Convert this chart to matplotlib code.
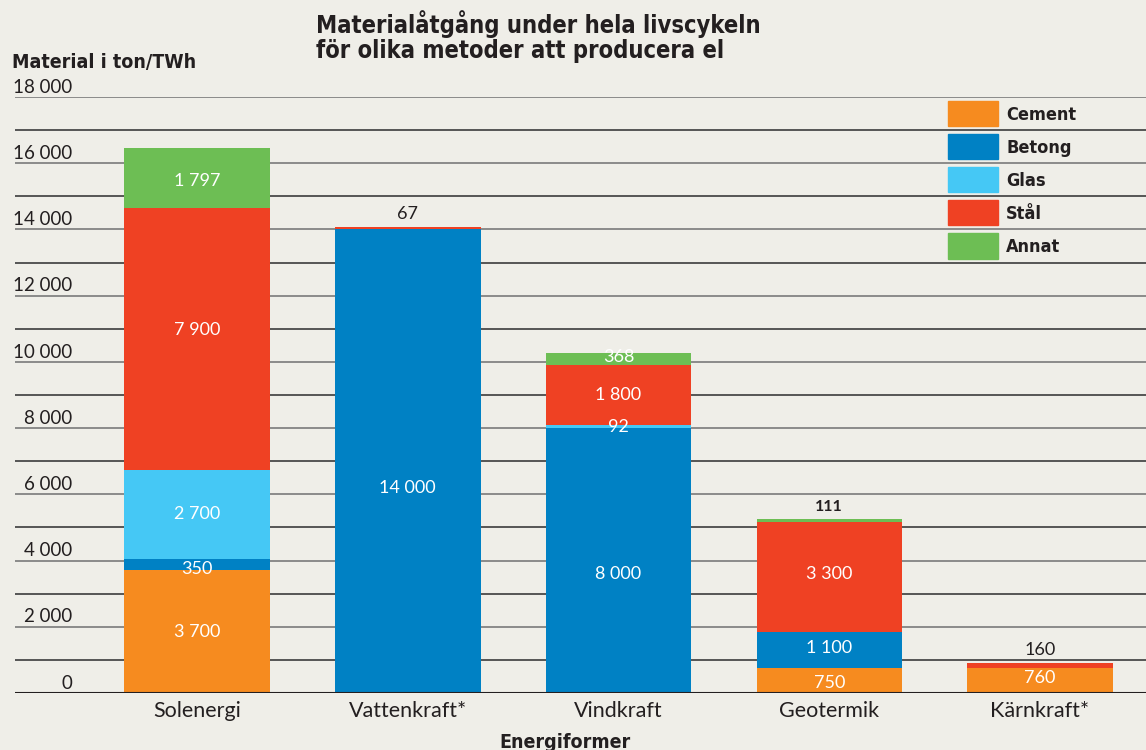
import numpy as np
import matplotlib.pyplot as plt

# data (ton/TWh)
categories = ['Solenergi', 'Vattenkraft*', 'Vindkraft', 'Geotermik', 'Kärnkraft*']
materials = ['Cement', 'Betong', 'Glas', 'Stål', 'Annat']
cement = [3700, 0, 0, 750, 760]
betong = [350, 14000, 8000, 1100, 0]
glas = [2700, 0, 92, 0, 0]
stal = [7900, 67, 1800, 3300, 160]
annat = [1797, 0, 368, 111, 0]
y_ticks = [0, 2000, 4000, 6000, 8000, 10000, 12000, 14000, 16000, 18000]

colors = ['#f68b1f', '#0081c4', '#45c8f5', '#ef4123', '#6dbe54']
bg = '#efeee8'
dark = '#231f20'
body = 'Lato'
head = dict(family='DejaVu Sans', stretch='condensed', weight='bold')

def fmt(v):
    return f'{v:,}'.replace(',', ' ')

fig = plt.figure(figsize=(11.46, 7.5), dpi=100, facecolor=bg)
ax = fig.add_axes([15/1146, 57/750, 1 - 15/1146, 596/750])
ax.set_facecolor(bg)
ax.set_xlim(-0.864, 4.503)
ax.set_ylim(0, 18000)
for s in ax.spines.values():
    s.set_visible(False)

# gridlines every 1000
for g in range(1000, 18001, 1000):
    ax.axhline(g, color='#3c3c3c' if g % 2000 else '#7a7a7a', lw=1.2, zorder=1)
ax.axhline(0, color=dark, lw=1.5, zorder=4)

# y labels sit just above their line
for v in y_ticks:
    ax.text((72 - 15) / 1131, v + 130, fmt(v), transform=ax.get_yaxis_transform(),
            ha='right', va='baseline', fontsize=13.5, family=body, color=dark)
ax.set_yticks([])

x = np.arange(len(categories))
series = [cement, betong, glas, stal, annat]
bottom = np.zeros(len(categories))
for vals, c in zip(series, colors):
    ax.bar(x, vals, 0.69, bottom=bottom, color=c, zorder=3)
    bottom += np.array(vals)

ax.set_xticks(x, categories)
ax.tick_params(axis='x', length=0, pad=6, labelsize=15.5, labelcolor=dark)
for t in ax.get_xticklabels():
    t.set_family(body)

# value labels
def inside(i, lo, val, dy=0):
    ax.text(i, lo + val / 2 + dy, fmt(val), ha='center', va='center',
            color='white', fontsize=13, family=body, zorder=5)

def above(i, top, val, bold=False):
    ax.text(i, top + 150, fmt(val), ha='center', va='bottom', color=dark,
            fontsize=11.5 if bold else 13, family=body,
            weight='bold' if bold else 'normal', zorder=5)

# Solenergi
lo = 0
inside(0, lo, cement[0]); lo += cement[0]
ax.text(0, lo + betong[0] / 2 - 130, fmt(betong[0]), ha='center', va='center',
        color='white', fontsize=13, family=body, zorder=5); lo += betong[0]
inside(0, lo, glas[0]); lo += glas[0]
inside(0, lo, stal[0], 250); lo += stal[0]
inside(0, lo, annat[0], -100)
# Vattenkraft
inside(1, 0, betong[1], -800)
above(1, betong[1] + stal[1], stal[1])
# Vindkraft
inside(2, 0, betong[2], -400)
ax.text(2, betong[2] + 30, fmt(glas[2]), ha='center', va='center',
        color='white', fontsize=13, family=body, zorder=5)
inside(2, betong[2] + glas[2], stal[2])
inside(2, betong[2] + glas[2] + stal[2], annat[2], 60)
# Geotermik
inside(3, 0, cement[3], -80)
inside(3, cement[3], betong[3], 60)
inside(3, cement[3] + betong[3], stal[3], 100)
above(3, cement[3] + betong[3] + stal[3] + annat[3], annat[3], bold=True)
# Kärnkraft
inside(4, 0, cement[4], 70)
above(4, cement[4] + stal[4], stal[4])

# legend, rows between gridlines
trans = ax.get_yaxis_transform()
for k, (m, c) in enumerate(zip(materials, colors)):
    yc = 17500 - 1000 * k
    ax.add_patch(plt.Rectangle(((948 - 15) / 1131, yc - 380), 50 / 1131, 760,
                               transform=trans, color=c, zorder=5))
    ax.text((1006 - 15) / 1131, yc - 30, m, transform=trans, ha='left', va='center',
            fontsize=13, color=dark, zorder=5, **head)

# titles
fig.text(316 / 1146, 1 - 10 / 750, 'Materialåtgång under hela livscykeln\nför olika metoder att producera el',
         ha='left', va='top', fontsize=17, color=dark, linespacing=1.05, **head)
fig.text(12 / 1146, 1 - 63 / 750, 'Material i ton/TWh', ha='left', va='center',
         fontsize=14, color=dark, **head)
fig.text(565 / 1146, 1 - 742 / 750, 'Energiformer', ha='center', va='center',
         fontsize=14, color=dark, **head)

fig.savefig('out.png', dpi=100, facecolor=bg)
